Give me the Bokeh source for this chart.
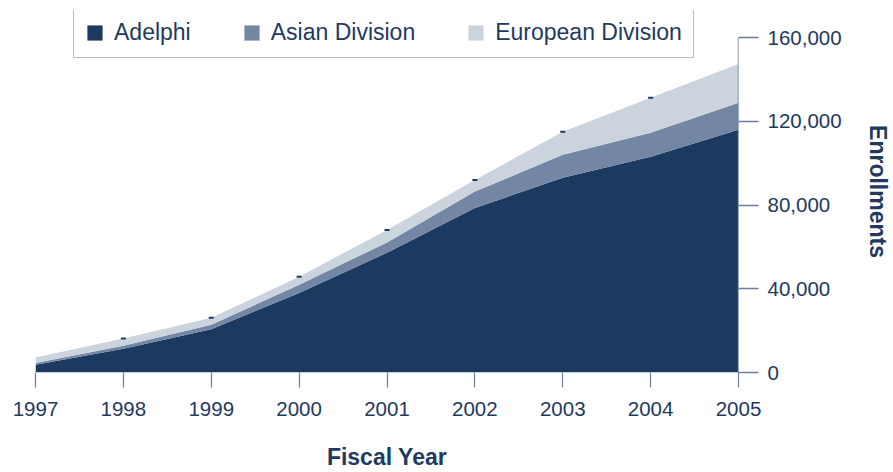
from bokeh.plotting import figure
from bokeh.models import (Range1d, FixedTicker, NumeralTickFormatter, ColumnDataSource,
                          Legend, LegendItem)
from bokeh.embed import file_html
from bokeh.resources import INLINE
import numpy as np

# ---- data ----
years = [1997, 1998, 1999, 2000, 2001, 2002, 2003, 2004, 2005]
adelphi = [3700, 11300, 20700, 38000, 57200, 78600, 93000, 103000, 115900]
asian = [800, 1500, 2100, 3900, 4900, 7800, 11000, 11500, 12900]
european = [2700, 3400, 3300, 3800, 6000, 5600, 11000, 16700, 18600]
series_names = ["Adelphi", "Asian Division", "European Division"]
y_ticks = [0, 40000, 80000, 120000, 160000]

colors = ["#1c3a5f", "#7386a3", "#cbd3dd"]
text_color = "#1f3a5f"
axis_color = "#6a7e9b"
FONT = "Liberation Sans"
Y_TOP = 172900  # headroom above the last tick so the legend can sit above the axis top

src = ColumnDataSource(dict(year=years, adelphi=adelphi, asian=asian, european=european))
totals = (np.array(adelphi) + np.array(asian) + np.array(european)).tolist()
mark_src = ColumnDataSource(dict(year=years[1:-1], total=totals[1:-1]))

p = figure(width=893, height=472, x_range=Range1d(years[0], years[-1]), y_range=Range1d(0, Y_TOP),
           output_backend="svg", toolbar_location=None, y_axis_location="right",
           min_border_left=35, min_border_top=10, min_border_right=153, min_border_bottom=99)
p.outline_line_color = None
p.xgrid.visible = False
p.ygrid.visible = False
p.background_fill_color = "white"
p.border_fill_color = "white"

rs = p.varea_stack(["adelphi", "asian", "european"], x="year", color=colors, source=src)
p.scatter("year", "total", source=mark_src, marker="dash", size=5, line_width=2,
          line_color=text_color)
# y axis line, only from the first to the last tick
p.segment(x0=[years[-1]], y0=[y_ticks[0]], x1=[years[-1]], y1=[y_ticks[-1]],
          line_color=axis_color, line_width=1.5)

# x axis
xa = p.xaxis[0]
xa.ticker = FixedTicker(ticks=years)
xa.axis_line_color = None
xa.major_tick_line_color = axis_color
xa.major_tick_line_width = 1.2
xa.major_tick_out = 15
xa.major_tick_in = 0
xa.minor_tick_line_color = None
xa.major_label_text_font = FONT
xa.major_label_text_font_size = "20.5px"
xa.major_label_text_color = text_color
xa.major_label_standoff = 14
xa.axis_label = "Fiscal Year"
xa.axis_label_text_font = FONT
xa.axis_label_text_font_style = "bold"
xa.axis_label_text_font_size = "23px"
xa.axis_label_text_color = text_color
xa.axis_label_standoff = 25

# y axis
ya = p.yaxis[0]
ya.ticker = FixedTicker(ticks=y_ticks)
ya.formatter = NumeralTickFormatter(format="0,0")
ya.axis_line_color = None
ya.major_tick_line_color = axis_color
ya.major_tick_line_width = 1.5
ya.major_tick_out = 20
ya.major_tick_in = 0
ya.minor_tick_line_color = None
ya.major_label_text_font = FONT
ya.major_label_text_font_size = "20.5px"
ya.major_label_text_color = text_color
ya.major_label_standoff = 9
ya.axis_label = "Enrollments"
ya.axis_label_text_font = FONT
ya.axis_label_text_font_style = "bold"
ya.axis_label_text_font_size = "23px"
ya.axis_label_text_color = text_color
ya.axis_label_standoff = 20

legend = Legend(items=[LegendItem(label=n, renderers=[r]) for n, r in zip(series_names, rs)],
                orientation="horizontal", location=(38, 314))
legend.glyph_width = 19
legend.glyph_height = 19
legend.label_standoff = 10
legend.spacing = 51
legend.padding = 11
legend.label_height = 17
legend.label_text_font = FONT
legend.label_text_font_size = "23px"
legend.label_text_color = text_color
legend.border_line_color = axis_color
legend.border_line_width = 1.5
legend.background_fill_color = "white"
legend.background_fill_alpha = 1.0
p.add_layout(legend, "center")

open("out.html", "w").write(file_html(p, INLINE))
